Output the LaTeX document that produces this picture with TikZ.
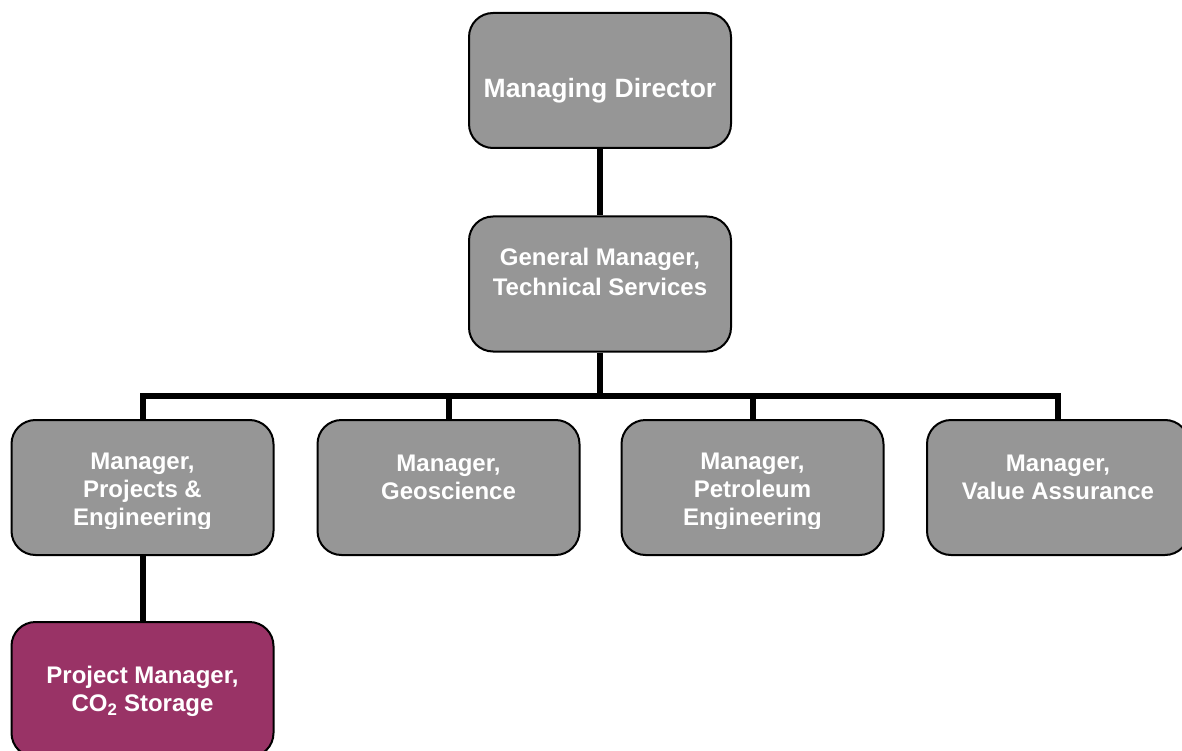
\documentclass[tikz,border=0pt]{standalone}
\usepackage{fontspec}
\setmainfont{Liberation Sans}
\usepackage{tikz}
\usetikzlibrary{positioning}

\definecolor{postgray}{RGB}{150,150,150}
\definecolor{co2plum}{RGB}{153,51,102}

\tikzset{
  post/.style={draw=black, line width=2pt, fill=postgray, rounded corners=24pt,
               minimum width=262pt, minimum height=135pt, inner sep=0pt},
  co2post/.style={post, fill=co2plum},
  txt/.style={text=white, align=center, inner sep=0pt,
              font=\bfseries\fontsize{24}{28}\selectfont},
  bigtxt/.style={txt, font=\bfseries\fontsize{26.5}{30}\selectfont},
  gmtxt/.style={txt, font=\bfseries\fontsize{24}{30}\selectfont},
  link/.style={line width=6pt, line join=miter},
}

\begin{document}
\begin{tikzpicture}[x=1pt,y=1pt]
        \clip (0,0) rectangle (1182,-751);                        %
        \fill [white] (0,0) rectangle (1182,-751);                %
        % boxes
        \node [post]    (md)  at (600,-80.5)    {};               %MD
        \node [post]    (gm)  at (600,-284)     {};               %GM
        \node [post]    (pe)  at (142.5,-487.5) {};               %P&E
        \node [post]    (geo) at (448.5,-487.5) {};               %Geo
        \node [post]    (pet) at (752.5,-487.5) {};               %Pet
        \node [post]    (va)  at (1058,-487.5)  {};               %VA
        \node [co2post] (co2) at (142.5,-689.5) {};               %CO2
        % lines
        \coordinate (bus) at (600,-396);                          %
        \draw [link] (md) -- (gm);                                %
        \draw [link] (gm) -- (bus);                               %
        \draw [link] (pe) -- (pe.north |- bus) -- (va.north |- bus) -- (va);
        \draw [link] (geo) -- (geo.north |- bus);                 %
        \draw [link] (pet) -- (pet.north |- bus);                 %
        \draw [link] (pe) -- (co2);                               %
        % texts
        \node [bigtxt] (mdT)  at ([yshift=-10]md.center)  {Managing Director};
        \node [gmtxt]  (gmT)  at ([yshift=12]gm.center)   {General Manager,\\Technical Services};
        \node [txt]    (geoT) at ([yshift=10]geo.center)  {Manager,\\Geoscience};
        \node [txt]    (vaT)  at ([yshift=10]va.center)   {Manager,\\Value Assurance};
        \node [txt]    (co2T) at ([yshift=-2]co2.center)  {Project Manager,\\CO\textsubscript{2} Storage};
        \begin{scope}
          \clip (0,0) rectangle (1182,-528);                      %cut-off
          \node [txt]  (peT)  at ([yshift=-4.5]pe.center)  {Manager,\\Projects \&\\Engineering};
          \node [txt]  (petT) at ([yshift=-4.5]pet.center) {Manager,\\Petroleum\\Engineering};
        \end{scope}
\end{tikzpicture}
\end{document}
